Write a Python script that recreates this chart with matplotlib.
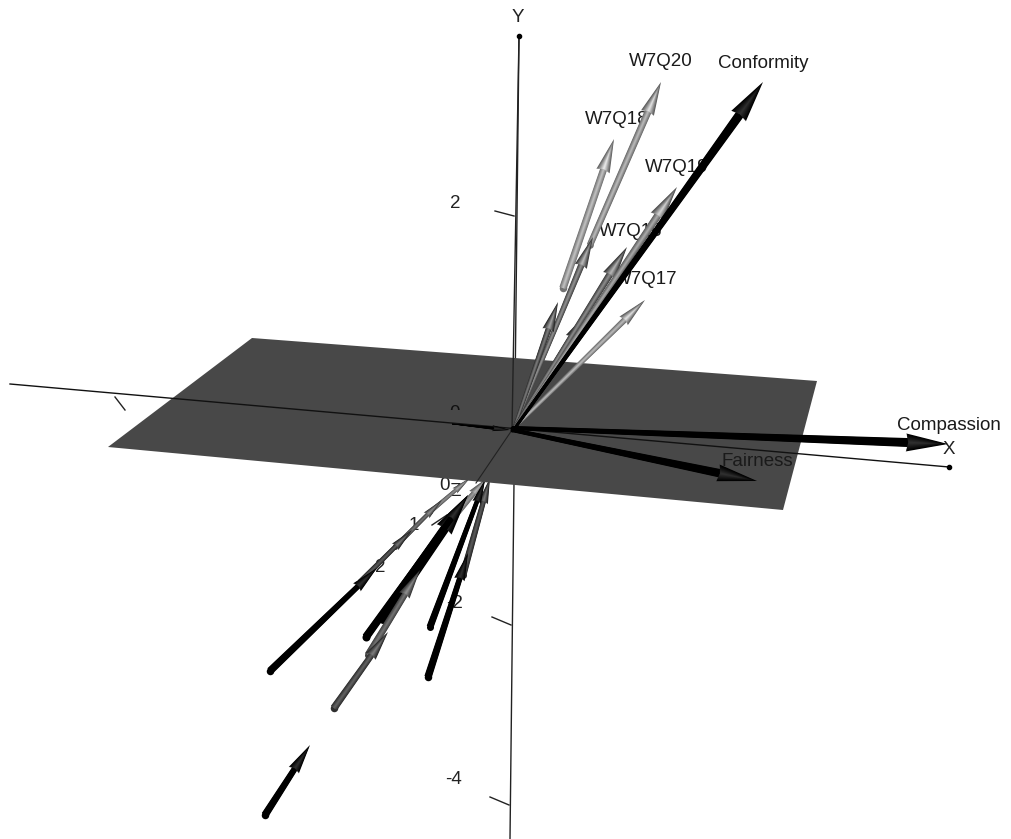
import numpy as np
import matplotlib
matplotlib.use("Agg")
import matplotlib.pyplot as plt
from matplotlib.patches import Rectangle

plt.rcParams["font.family"] = ["Liberation Sans", "DejaVu Sans"]

plane_x = [252, 817, 783, 108]
plane_y = [338, 381, 510, 447]

# axis lines
x_axis = [(10, 384), (949, 467)]
y_axis = [(519, 36), (510, 839)]
z_axis = [(512, 430), (476, 483)]
origin = (512, 430)

tick_segments = [
    ((115, 397), (125, 410)),
    ((495, 211), (514, 216)),
    ((492, 617), (511, 625)),
    ((490, 797), (509, 805)),
    ((432, 525), (447, 515)),
]

tick_labels = ["2", "-2", "-4", "0", "1", "2"]
tick_label_x = [455, 455, 453, 445, 414, 380]
tick_label_y = [204, 603, 780, 485, 526, 568]

axis_names = ["X", "Y", "Z"]
axis_name_x = [949, 518, 455]
axis_name_y = [449, 17, 492]

var_names = ["W7Q20", "Conformity", "W7Q18", "W7Q19", "W7Q16", "W7Q17", "Compassion", "Fairness"]
var_x = [661, 763, 617, 677, 631, 646, 949, 757]
var_y = [61, 63, 119, 167, 231, 280, 425, 462]

# arrows above the plane: tail, tip, edge grey, widths
up_tail_x = [515, 515, 514, 514, 514, 514, 563, 590, 514]
up_tail_y = [428, 428, 428, 428, 428, 428, 288, 245, 428]
up_tip_x = [763, 677, 627, 587, 558, 593, 614, 661, 645]
up_tip_y = [82, 187, 247, 313, 302, 237, 139, 82, 300]
up_grey = [0.0, 0.36, 0.24, 0.16, 0.18, 0.26, 0.45, 0.42, 0.42]
up_w0 = [3, 3, 3, 3, 3, 3, 7.5, 6.5, 3]
up_w1 = [9, 7.5, 7, 6, 6, 6.5, 7, 7, 6]

# arrows under the plane, they run in behind it
low_tail_x = [430, 395, 360, 270, 455, 383, 366, 368, 334, 463, 430, 428, 265]
low_tail_y = [512, 547, 582, 671, 515, 618, 637, 655, 708, 575, 627, 677, 815]
low_tip_x = [470, 442, 412, 377, 487, 468, 468, 420, 388, 490, 485, 468, 310]
low_tip_y = [478, 500, 530, 568, 478, 495, 495, 570, 632, 478, 480, 553, 745]
low_grey = [0.35, 0.25, 0.15, 0.0, 0.4, 0.0, 0.0, 0.25, 0.18, 0.15, 0.0, 0.0, 0.0]
low_w0 = [4.5, 5, 5.5, 7.5, 7, 11, 8, 7, 7.5, 7, 7, 7.5, 7.5]
low_w1 = [3.5, 4, 4.5, 5.5, 5, 9, 6, 6, 6, 5, 4.5, 5.5, 6]

# arrows lying nearly flat: Compassion, Fairness, and the short one to the left
flat_tail_x = [512, 512, 452]
flat_tail_y = [428, 430, 424]
flat_tip_x = [948, 757, 510]
flat_tip_y = [444, 481, 430]
flat_w0 = [4, 4, 0.5]
flat_w1 = [9, 8.5, 3]


def draw_arrow(ax, tail, tip, grey, z, w0, w1, gain=0.3):
    tail = np.array(tail, float)
    tip = np.array(tip, float)
    d = tip - tail
    length = np.hypot(*d)
    u = d / length
    n = np.array([-u[1], u[0]])
    head_len = min(4 * w1 + 4, length * 0.4)
    base = tip - u * head_len
    head_w = w1 * 2.0
    layers = 8
    light = grey + gain if grey > 0 else 0.0
    ax.plot([tail[0]], [tail[1]], "o", ms=w0 * 0.72, mew=0, color=(grey, grey, grey), zorder=z)
    # shaft in layers, lighter along the middle
    for i in range(layers):
        k = 1 - i / layers
        g = grey + (light - grey) * (i / (layers - 1))
        pts = [tail + n * w0 / 2 * k, base + u * 2 + n * w1 / 2 * k,
               base + u * 2 - n * w1 / 2 * k, tail - n * w0 / 2 * k]
        ax.fill(*zip(*pts), color=(g, g, g), lw=0, zorder=z)
    # head, a cone seen from the side
    edge = grey * 0.85
    top = min(grey + gain * 1.5, 0.92) if grey > 0 else 0.18
    for i in range(layers):
        k = 1 - i / layers
        g = edge + (top - edge) * (i / (layers - 1))
        pts = [tip - u * head_len * (1 - k) * 0.5,
               base + n * head_w / 2 * k - u * 2 * k,
               base + u * 3 * k,
               base - n * head_w / 2 * k - u * 2 * k]
        ax.fill(*zip(*pts), color=(g, g, g), lw=0, zorder=z + 0.01)


fig = plt.figure(figsize=(10.11, 8.39), dpi=100)
ax = fig.add_axes([0, 0, 1, 1])
ax.set_xlim(0, 1011)
ax.set_ylim(839, 0)
ax.axis("off")

# things hidden by the plane first
ax.plot(*zip(*y_axis), color="#222222", lw=1, zorder=1)
for a, b in tick_segments:
    ax.plot(*zip(a, b), color="#222222", lw=1, zorder=1)
for t, tx, ty in zip(tick_labels, tick_label_x, tick_label_y):
    ax.text(tx, ty, t, fontsize=13.5, color="#222222", ha="center", va="center", zorder=1.5)
ax.text(axis_name_x[2], axis_name_y[2], axis_names[2], fontsize=13.5, color="#222222",
        ha="center", va="center", zorder=1.5)

for i in range(len(low_tail_x)):
    draw_arrow(ax, (low_tail_x[i], low_tail_y[i]), (low_tip_x[i], low_tip_y[i]),
               low_grey[i], 2 + i * 0.05, low_w0[i], low_w1[i], gain=0.2)

ax.fill(plane_x, plane_y, color="#484848", lw=0, zorder=5)

# axes lying on top of the plane
ax.plot(*zip(*x_axis), color="#111111", lw=1, zorder=6)
ax.plot(*zip(y_axis[0], origin), color="#222222", lw=1, zorder=6)
ax.plot(*zip(*z_axis), color="#222222", lw=0.8, zorder=6)
ax.scatter([x_axis[1][0], y_axis[0][0]], [x_axis[1][1], y_axis[0][1]], s=9, color="black", zorder=6)

# the x axis "0" pokes out through the plane, only its top shows
zero = ax.text(454, 413, "0", fontsize=13.5, color="#111111", ha="center", va="center", zorder=6)
zero.set_clip_on(True)
zero.set_clip_path(Rectangle((440, 395), 30, 15, transform=ax.transData))

for i in [0, 1]:
    ax.text(axis_name_x[i], axis_name_y[i], axis_names[i], fontsize=13.5, color="#222222",
            ha="center", va="center", zorder=6.5)
for t, tx, ty in zip(var_names, var_x, var_y):
    ax.text(tx, ty, t, fontsize=13.5, color="#1a1a1a", ha="center", va="center", zorder=7)

for i in range(len(up_tail_x)):
    draw_arrow(ax, (up_tail_x[i], up_tail_y[i]), (up_tip_x[i], up_tip_y[i]),
               up_grey[i], 8 + (len(up_tail_x) - i) * 0.05, up_w0[i], up_w1[i])

for i in range(len(flat_tail_x)):
    draw_arrow(ax, (flat_tail_x[i], flat_tail_y[i]), (flat_tip_x[i], flat_tip_y[i]),
               0.0, 9 + i * 0.05, flat_w0[i], flat_w1[i])

fig.savefig("out.png", dpi=100)
